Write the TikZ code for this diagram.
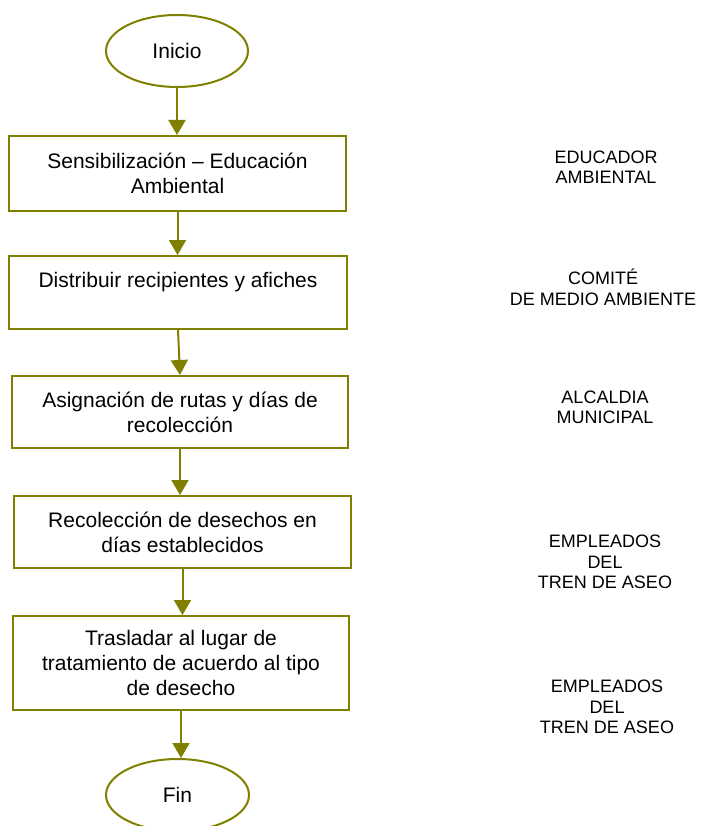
\documentclass[tikz,border=0pt]{standalone}
\usepackage{fontspec}
\setmainfont{Liberation Sans}
\usepackage{tikz}
\usetikzlibrary{arrows.meta,positioning,shapes}
\definecolor{flowolive}{RGB}{128,128,0}

\begin{document}
\begin{tikzpicture}[x=1pt,y=-1pt,
  paso/.style={draw=flowolive,line width=2pt,rectangle,inner sep=0pt,align=center,font=\fontsize{21}{25}\selectfont},
  extremo/.style={draw=flowolive,line width=2pt,ellipse,inner sep=0pt,minimum width=142pt,minimum height=72pt,font=\fontsize{21}{25}\selectfont},
  flecha/.style={draw=flowolive,line width=2pt,-{Triangle[width=17pt,length=15pt]}},
  resp/.style={align=center,font=\fontsize{18}{20.5}\selectfont}]
\useasboundingbox (0,0) rectangle (702,826);
\node[extremo] (inicio) at (177,51) {Inicio};
\node[paso,minimum width=337pt,minimum height=75pt] (sens) at (177.5,173.5) {Sensibilizaci\'on -- Educaci\'on\\Ambiental};
\node[paso,minimum width=338pt,minimum height=73pt] (dist) at (178,292.5) {Distribuir recipientes y afiches\\~};
\node[paso,minimum width=336pt,minimum height=72pt] (asig) at (180,412) {Asignaci\'on de rutas y d\'ias de\\recolecci\'on};
\node[paso,minimum width=337pt,minimum height=72pt] (reco) at (182.5,532) {Recolecci\'on de desechos en\\d\'ias establecidos};
\node[paso,minimum width=336pt,minimum height=94pt] (tras) at (181,663) {Trasladar al lugar de\\tratamiento de acuerdo al tipo\\de desecho};
\node[extremo,minimum width=143pt] (fin) at (177.5,795) {Fin};
\draw[flecha] (inicio.south) -- (inicio.south |- sens.north);
\draw[flecha] (sens.south) -- (sens.south |- dist.north);
\draw[flecha] (dist.south) -- (asig.north);
\draw[flecha] (asig.south) -- (asig.south |- reco.north);
\draw[flecha] (reco.south) -- (reco.south |- tras.north);
\draw[flecha] (tras.south) -- (tras.south |- fin.north);
\node[resp] (educador) at (606,167) {EDUCADOR\\AMBIENTAL};
\node[resp] (comite) at (603,287.5) {COMIT\'E\\DE MEDIO AMBIENTE};
\node[resp] (alcaldia) at (605,407.5) {ALCALDIA\\MUNICIPAL};
\node[resp] (empleados1) at (605,562) {EMPLEADOS\\DEL\\TREN DE ASEO};
\node[resp] (empleados2) at (607,707) {EMPLEADOS\\DEL\\TREN DE ASEO};
\end{tikzpicture}
\end{document}
